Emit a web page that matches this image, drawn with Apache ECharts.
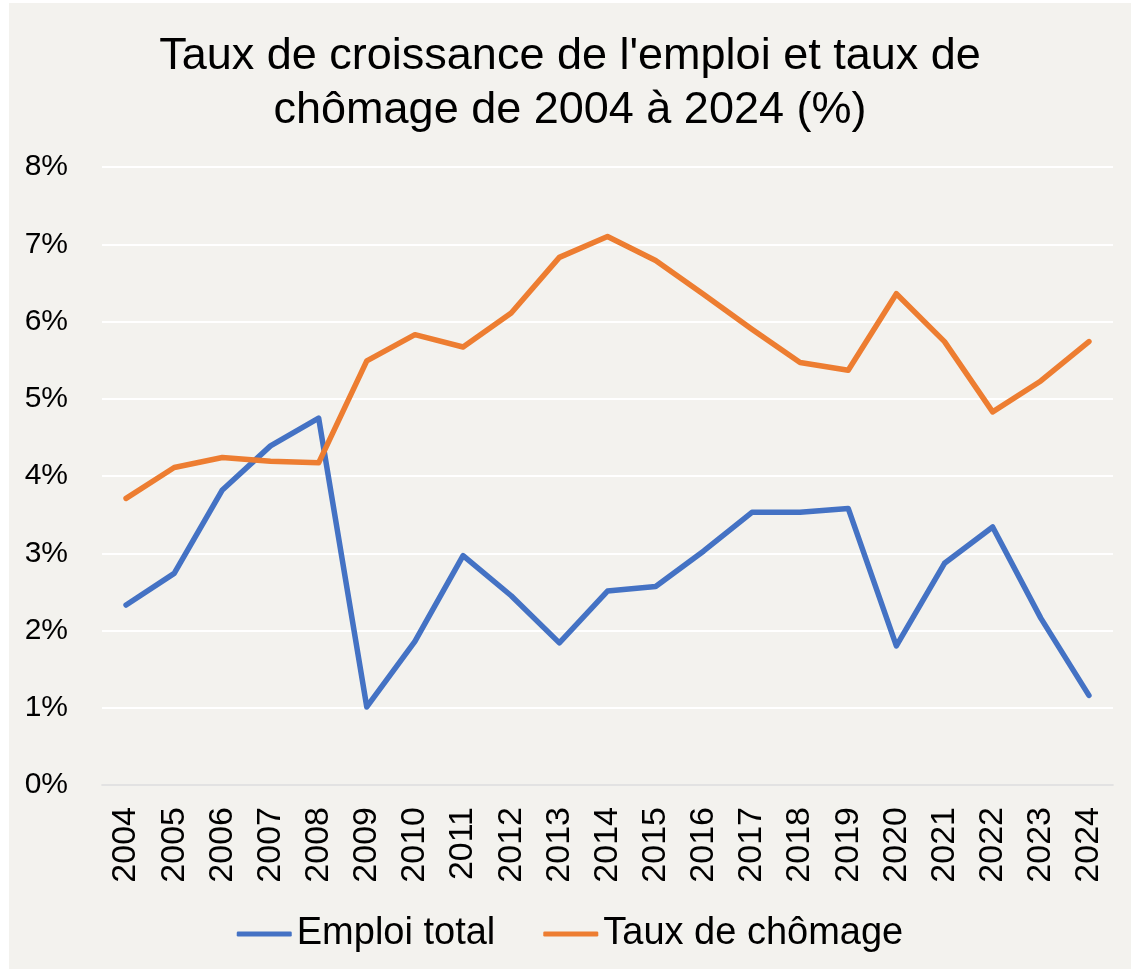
<!DOCTYPE html>
<html>
<head>
<meta charset="utf-8">
<script src="https://cdn.jsdelivr.net/npm/echarts@6/dist/echarts.min.js"></script>
<style>
  html, body { margin: 0; padding: 0; background: #ffffff; }
  #chart { position: absolute; left: 9px; top: 3px; width: 1122px; height: 966px; background: #f3f2ee; }
</style>
</head>
<body>
<div id="chart"></div>
<script>
var years = ['2004', '2005', '2006', '2007', '2008', '2009', '2010', '2011', '2012', '2013', '2014',
	'2015', '2016', '2017', '2018', '2019', '2020', '2021', '2022', '2023', '2024'];
var emploiTotal = [2.33, 2.74, 3.82, 4.39, 4.75, 1.01, 1.86, 2.97, 2.45, 1.84, 2.51,
	2.57, 3.03, 3.53, 3.53, 3.58, 1.80, 2.87, 3.34, 2.16, 1.16];
var tauxChomage = [3.71, 4.11, 4.24, 4.19, 4.17, 5.49, 5.83, 5.67, 6.11, 6.83, 7.10,
	6.79, 6.35, 5.90, 5.47, 5.37, 6.36, 5.74, 4.83, 5.23, 5.74];

var fontMain = '"Liberation Sans", Arial, sans-serif';

var option = {
	backgroundColor: '#f3f2ee',
	animation: false,
	title: {
		text: "Taux de croissance de l'emploi et taux de\nchômage de 2004 à 2024 (%)",
		left: 'center',
		top: 22,
		textStyle: {
			fontFamily: fontMain,
			fontWeight: 'normal',
			fontSize: 45,
			lineHeight: 54,
			color: '#000'
		}
	},
	legend: {
		bottom: 11,
		left: 'center',
		itemWidth: 55,
		itemHeight: 5,
		itemGap: 48,
		icon: 'roundRect',
		textStyle: {
			fontFamily: fontMain,
			fontSize: 38,
			color: '#000'
		},
		data: ['Emploi total', 'Taux de chômage']
	},
	grid: {
		left: 93,
		right: 18,
		top: 164,
		bottom: 184
	},
	xAxis: {
		type: 'category',
		data: years,
		boundaryGap: true,
		axisLine: { lineStyle: { color: '#d9d9d9', width: 1.5 } },
		axisTick: { show: false },
		axisLabel: {
			rotate: 90,
			margin: 22,
			fontFamily: fontMain,
			fontSize: 34,
			color: '#000'
		}
	},
	yAxis: {
		type: 'value',
		min: 0,
		max: 8,
		interval: 1,
		axisLine: { show: false },
		axisTick: { show: false },
		splitLine: { lineStyle: { color: '#ffffff', width: 2 } },
		axisLabel: {
			margin: 34,
			fontFamily: fontMain,
			fontSize: 30,
			color: '#000',
			formatter: '{value}%'
		}
	},
	series: [{
		name: 'Emploi total',
		type: 'line',
		data: emploiTotal,
		showSymbol: false,
		lineStyle: { color: '#4472c4', width: 5.5, cap: 'round', join: 'round' },
		itemStyle: { color: '#4472c4' }
	}, {
		name: 'Taux de chômage',
		type: 'line',
		data: tauxChomage,
		showSymbol: false,
		lineStyle: { color: '#ed7d31', width: 5.5, cap: 'round', join: 'round' },
		itemStyle: { color: '#ed7d31' }
	}]
};

var myChart = echarts.init(document.getElementById('chart'));
myChart.setOption(option);
</script>
</body>
</html>
